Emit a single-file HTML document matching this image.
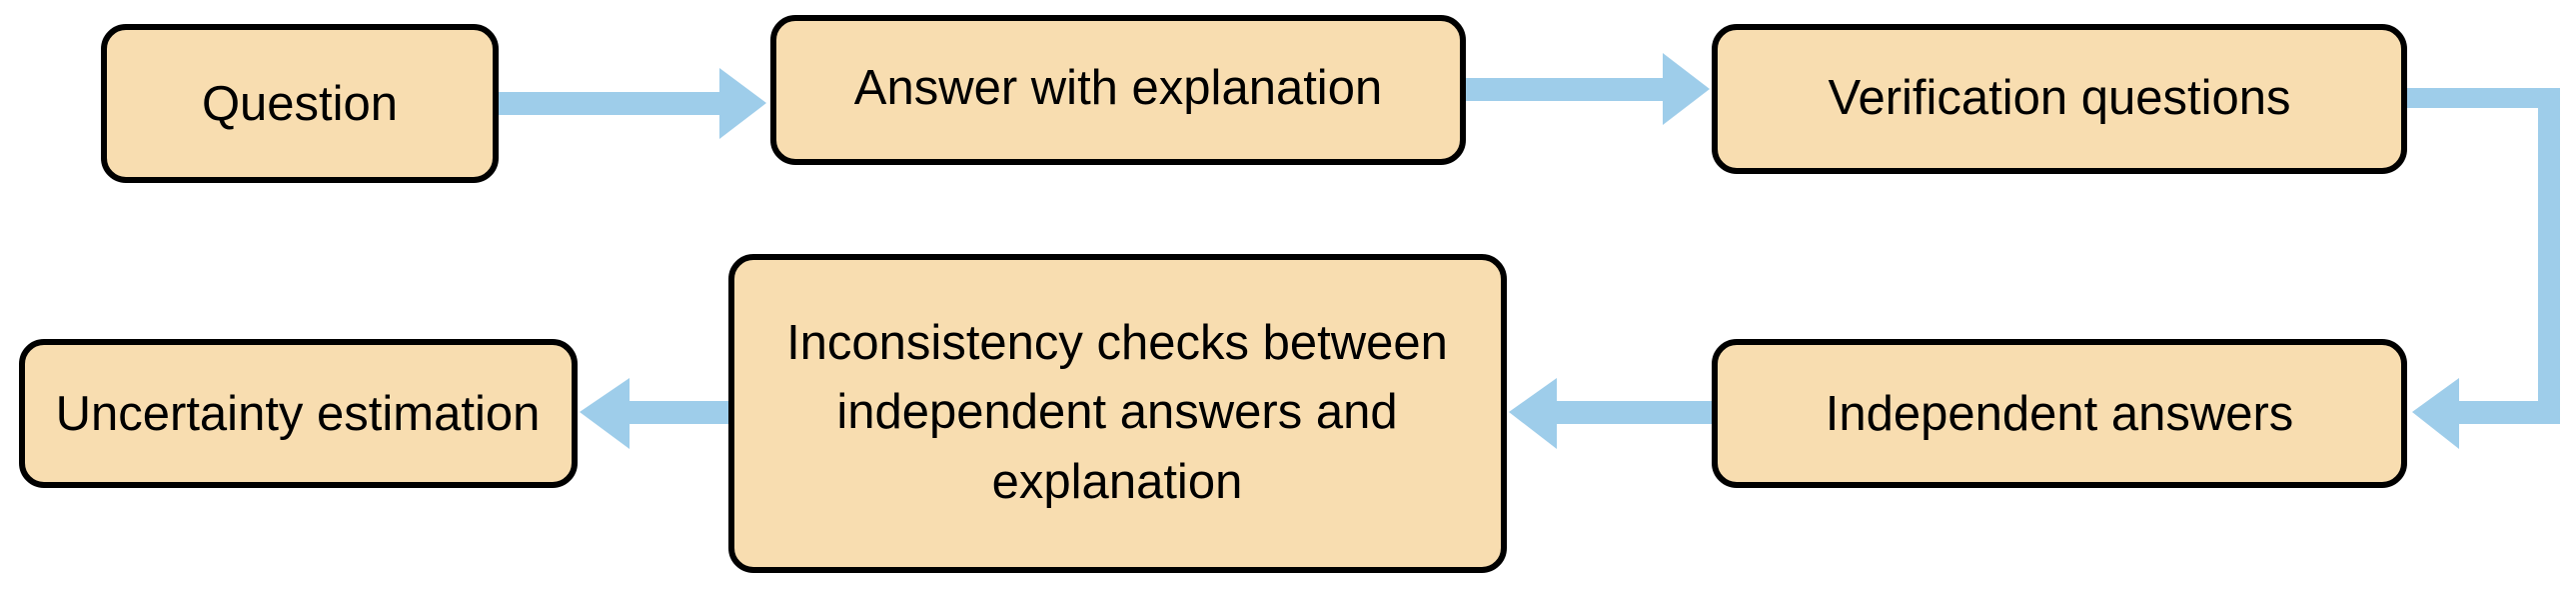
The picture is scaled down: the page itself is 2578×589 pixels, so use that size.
<!DOCTYPE html>
<html><head><meta charset="utf-8"><style>
html,body{margin:0;padding:0;background:#fff;}
svg{display:block;}
text{font-family:"Liberation Sans",sans-serif;font-size:49px;fill:#000;text-anchor:middle;}
</style></head><body>
<svg width="2578" height="589" viewBox="0 0 2578 589" xmlns="http://www.w3.org/2000/svg">
<g fill="#9ECDEA">
<rect x="496" y="92" width="226" height="23"/>
<polygon points="720,68 767,103 720,139"/>
<rect x="1465" y="78" width="201" height="23"/>
<polygon points="1664,53 1711,89 1664,125"/>
<rect x="2407" y="88" width="155" height="20"/>
<rect x="2540" y="88" width="22" height="336"/>
<rect x="2459" y="401" width="103" height="23"/>
<polygon points="2461,378 2414,412 2461,449"/>
<rect x="1556" y="401" width="160" height="23"/>
<polygon points="1558,378 1510,412 1558,449"/>
<rect x="628" y="401" width="104" height="23"/>
<polygon points="630,378 580,412 630,449"/>
</g>
<g fill="#F8DDB0" stroke="#000" stroke-width="6">
<rect x="104" y="27" width="392" height="153" rx="22"/>
<rect x="774" y="18" width="690" height="144" rx="22"/>
<rect x="1716" y="27" width="690" height="144" rx="22"/>
<rect x="1716" y="342" width="690" height="143" rx="22"/>
<rect x="732" y="257" width="773" height="313" rx="22"/>
<rect x="22" y="342" width="553" height="143" rx="22"/>
</g>
<text x="300" y="120">Question</text>
<text x="1119" y="104">Answer with explanation</text>
<text x="2061" y="114">Verification questions</text>
<text x="2061" y="430">Independent answers</text>
<text x="298" y="430">Uncertainty estimation</text>
<text x="1118" y="359">Inconsistency checks between</text>
<text x="1118" y="428">independent answers and</text>
<text x="1118" y="498">explanation</text>
</svg>
</body></html>
